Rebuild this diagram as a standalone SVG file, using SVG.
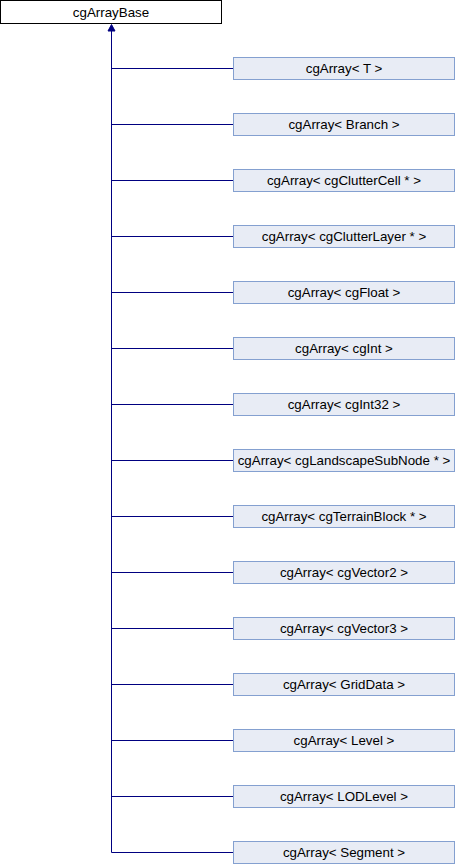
<svg xmlns="http://www.w3.org/2000/svg" width="456" height="864" viewBox="0 0 456 864">
<defs>
<style>
.base rect{fill:#ffffff;stroke:#000000;stroke-width:1}
.node rect{fill:#e8ecf5;stroke:#84a0d0;stroke-width:1}
text{font-family:"Liberation Sans",Arial,sans-serif;font-size:13.33px;fill:#000000;text-anchor:middle}
#connectors path{fill:none;stroke:#000080;stroke-width:1}
#connectors polygon{fill:#000080;stroke:#000080;stroke-width:1}
</style>
</defs>
<rect width="456" height="864" fill="#ffffff"/>
<g id="connectors">
<path d="M111.5,852.5 V30"/>
<polygon points="111.5,24.5 115,31 108,31"/>
<path d="M111.5,68.5 H233"/>
<path d="M111.5,124.5 H233"/>
<path d="M111.5,180.5 H233"/>
<path d="M111.5,236.5 H233"/>
<path d="M111.5,292.5 H233"/>
<path d="M111.5,348.5 H233"/>
<path d="M111.5,404.5 H233"/>
<path d="M111.5,460.5 H233"/>
<path d="M111.5,516.5 H233"/>
<path d="M111.5,572.5 H233"/>
<path d="M111.5,628.5 H233"/>
<path d="M111.5,684.5 H233"/>
<path d="M111.5,740.5 H233"/>
<path d="M111.5,796.5 H233"/>
<path d="M111.5,852.5 H233"/>
</g>
<g id="cgArrayBase" class="base"><rect x="0.5" y="0.5" width="221" height="23"/><text x="111" y="16.5">cgArrayBase</text></g>
<g id="n_T" class="node"><rect x="233.5" y="57.5" width="221" height="22"/><text x="344" y="73">cgArray&lt; T &gt;</text></g>
<g id="n_Branch" class="node"><rect x="233.5" y="113.5" width="221" height="22"/><text x="344" y="129">cgArray&lt; Branch &gt;</text></g>
<g id="n_ClutterCell" class="node"><rect x="233.5" y="169.5" width="221" height="22"/><text x="344" y="185">cgArray&lt; cgClutterCell * &gt;</text></g>
<g id="n_ClutterLayer" class="node"><rect x="233.5" y="225.5" width="221" height="22"/><text x="344" y="241">cgArray&lt; cgClutterLayer * &gt;</text></g>
<g id="n_Float" class="node"><rect x="233.5" y="281.5" width="221" height="22"/><text x="344" y="297">cgArray&lt; cgFloat &gt;</text></g>
<g id="n_Int" class="node"><rect x="233.5" y="337.5" width="221" height="22"/><text x="344" y="353">cgArray&lt; cgInt &gt;</text></g>
<g id="n_Int32" class="node"><rect x="233.5" y="393.5" width="221" height="22"/><text x="344" y="409">cgArray&lt; cgInt32 &gt;</text></g>
<g id="n_LandscapeSubNode" class="node"><rect x="233.5" y="449.5" width="221" height="22"/><text x="344" y="465">cgArray&lt; cgLandscapeSubNode * &gt;</text></g>
<g id="n_TerrainBlock" class="node"><rect x="233.5" y="505.5" width="221" height="22"/><text x="344" y="521">cgArray&lt; cgTerrainBlock * &gt;</text></g>
<g id="n_Vector2" class="node"><rect x="233.5" y="561.5" width="221" height="22"/><text x="344" y="577">cgArray&lt; cgVector2 &gt;</text></g>
<g id="n_Vector3" class="node"><rect x="233.5" y="617.5" width="221" height="22"/><text x="344" y="633">cgArray&lt; cgVector3 &gt;</text></g>
<g id="n_GridData" class="node"><rect x="233.5" y="673.5" width="221" height="22"/><text x="344" y="689">cgArray&lt; GridData &gt;</text></g>
<g id="n_Level" class="node"><rect x="233.5" y="729.5" width="221" height="22"/><text x="344" y="745">cgArray&lt; Level &gt;</text></g>
<g id="n_LODLevel" class="node"><rect x="233.5" y="785.5" width="221" height="22"/><text x="344" y="801">cgArray&lt; LODLevel &gt;</text></g>
<g id="n_Segment" class="node"><rect x="233.5" y="841.5" width="221" height="22"/><text x="344" y="857">cgArray&lt; Segment &gt;</text></g>
</svg>
